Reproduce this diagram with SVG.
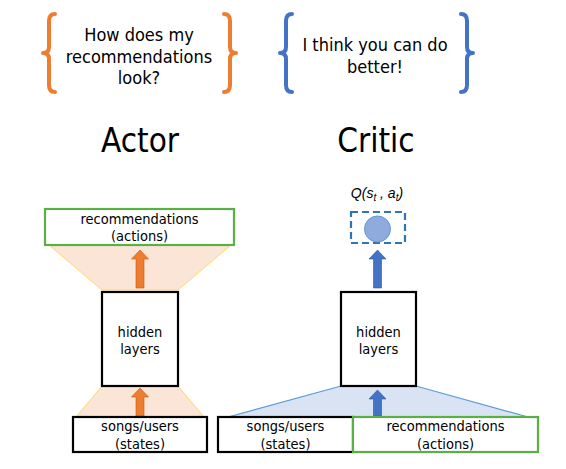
<svg xmlns="http://www.w3.org/2000/svg" width="566" height="469" viewBox="0 0 566 469">
<style>
text{font-family:"DejaVu Sans Condensed","DejaVu Sans",sans-serif;font-stretch:condensed;fill:#000;text-anchor:middle}
.t{font-size:18px}
.s{font-size:14.5px}
.title{font-size:33px}
.box{fill:#fff;stroke:#000;stroke-width:2.2}
.gbox{fill:#fff;stroke:#5AB045;stroke-width:2.2}
.brO{fill:none;stroke:#ED7D31;stroke-width:4;stroke-linecap:round;stroke-linejoin:round}
.brB{fill:none;stroke:#4472C4;stroke-width:4;stroke-linecap:round;stroke-linejoin:round}
.trO{fill:#FBE5D6;stroke:#FFD966;stroke-width:1}
.trB{fill:#DAE3F3;stroke:#5B9BD5;stroke-width:1.2}
.arO{fill:#ED7D31;stroke:#C55A11;stroke-width:0.6}
.arB{fill:#4472C4;stroke:#2F5597;stroke-width:0.6}
</style>
<rect width="566" height="469" fill="#fff"/>
<g id="actor-bubble">
<path class="brO" d="M55 14 Q49 14 49 21 L49 47 Q49 53 43 53 Q49 53 49 59 L49 85 Q49 92 55 92"/>
<path class="brO" d="M224 14 Q230 14 230 21 L230 47 Q230 53 236 53 Q230 53 230 59 L230 85 Q230 92 224 92"/>
<text class="t" x="139" y="41">How does my</text>
<text class="t" x="139" y="62.5">recommendations</text>
<text class="t" x="139" y="84">look?</text>
</g>
<g id="critic-bubble">
<path class="brB" d="M292 14 Q286 14 286 21 L286 47 Q286 53 280 53 Q286 53 286 59 L286 85 Q286 92 292 92"/>
<path class="brB" d="M461 14 Q467 14 467 21 L467 47 Q467 53 473 53 Q467 53 467 59 L467 85 Q467 92 461 92"/>
<text class="t" x="375" y="51">I think you can do</text>
<text class="t" x="375" y="73">better!</text>
</g>
<g id="actor-title"><text class="title" x="140" y="152">Actor</text></g>
<g id="critic-title"><text class="title" x="376" y="152">Critic</text></g>
<g id="connectors">
<path class="trO" d="M49 245 L231 245 L178 290 L102 290 Z"/>
<path class="trO" d="M102 386 L178 386 L204 417 L76 417 Z"/>
<path class="trB" d="M341 386 L416 386 L528 417 L228 417 Z"/>
<path class="arO" d="M136 288 L136 259 L131.5 259 L140 250 L148.5 259 L144 259 L144 288 Z"/>
<path class="arO" d="M136 416 L136 397 L131.5 397 L140 388 L148.5 397 L144 397 L144 416 Z"/>
<path class="arB" d="M373.5 288 L373.5 259 L369 259 L377.5 250 L386 259 L381.5 259 L381.5 288 Z"/>
<path class="arB" d="M373.5 416 L373.5 399 L369 399 L377.5 390 L386 399 L381.5 399 L381.5 416 Z"/>
</g>
<g id="actor-output">
<rect class="gbox" x="45" y="209" width="189" height="36"/>
<text class="s" x="139.5" y="223.5">recommendations</text>
<text class="s" x="139.5" y="241">(actions)</text>
</g>
<g id="actor-hidden">
<rect class="box" x="102" y="292" width="76" height="94"/>
<text class="s" x="140" y="337">hidden</text>
<text class="s" x="140" y="354">layers</text>
</g>
<g id="actor-input">
<rect class="box" x="73" y="417" width="134" height="35"/>
<text class="s" x="140" y="431">songs/users</text>
<text class="s" x="140" y="448.5">(states)</text>
</g>
<g id="critic-output">
<text x="377" y="198" style="font-family:'Liberation Sans',Arial,sans-serif;font-stretch:normal;font-size:14px;font-style:italic">Q(s<tspan style="font-size:10px" dy="3">t</tspan><tspan dy="-3"> , a</tspan><tspan style="font-size:10px" dy="3">t</tspan><tspan dy="-3">)</tspan></text>
<rect x="351" y="212" width="54" height="31" fill="none" stroke="#2E75B6" stroke-width="2.2" stroke-dasharray="7,4"/>
<circle cx="377.5" cy="229" r="13" fill="#8FAADC" stroke="#5B9BD5" stroke-width="1"/>
</g>
<g id="critic-hidden">
<rect class="box" x="341" y="292" width="75" height="94"/>
<text class="s" x="378.5" y="337">hidden</text>
<text class="s" x="378.5" y="354">layers</text>
</g>
<g id="critic-state">
<rect class="box" x="218" y="417" width="135" height="35"/>
<text class="s" x="285.5" y="431">songs/users</text>
<text class="s" x="285.5" y="448.5">(states)</text>
</g>
<g id="critic-action">
<rect class="gbox" x="353" y="417" width="185" height="35"/>
<text class="s" x="445.5" y="431">recommendations</text>
<text class="s" x="445.5" y="448.5">(actions)</text>
</g>
</svg>
